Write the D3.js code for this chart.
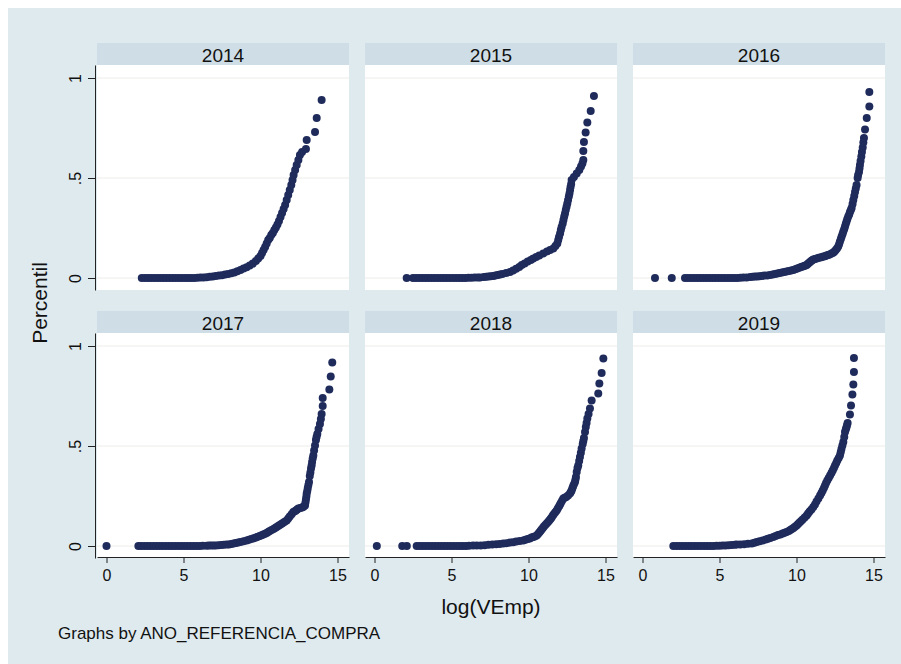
<!DOCTYPE html>
<html>
<head>
<meta charset="utf-8">
<script src="https://cdn.jsdelivr.net/npm/d3@7"></script>
<style>
  html, body { margin: 0; padding: 0; background: #ffffff; }
  svg { display: block; }
  text { font-family: "Liberation Sans", Arial, sans-serif; fill: #111; }
</style>
</head>
<body>
<svg id="chart" width="901" height="664"></svg>
<script>
// ---------------- DATA ----------------
const years = ["2014", "2015", "2016", "2017", "2018", "2019"];
const xTicks = [0, 5, 10, 15];
const yTicks = [0, 0.5, 1];
const yTickLabels = ["0", ".5", "1"];
const xTitle = "log(VEmp)";
const yTitle = "Percentil";
const note = "Graphs by ANO_REFERENCIA_COMPRA";

const x2014 = [2.29, 2.5, 2.7, 2.9, 3.1, 3.3, 3.5, 3.7, 3.9, 4.1, 4.3, 4.5, 4.7, 4.9, 5.1, 5.3, 5.5, 5.7, 5.9, 6.1, 6.3, 6.5, 6.7, 6.9, 7.1, 7.3, 7.5, 7.7, 7.9, 8.1, 8.3, 8.5, 8.7, 8.9, 9.1, 9.3, 9.5, 9.7, 9.85, 10.0, 10.1, 10.2, 10.3, 10.4, 10.5, 10.6, 10.7, 10.8, 10.9, 11.0, 11.1, 11.2, 11.3, 11.4, 11.5, 11.6, 11.7, 11.8, 11.9, 12.0, 12.08, 12.15, 12.25, 12.35, 12.46, 12.56, 12.7, 12.95, 13.0, 13.54, 13.65, 13.97];
const y2014 = [0, 0, 0, 0, 0, 0, 0, 0, 0, 0, 0, 0, 0, 0, 0, 0, 0, 0, 0.001, 0.002, 0.003, 0.004, 0.006, 0.008, 0.01, 0.012, 0.014, 0.017, 0.02, 0.024, 0.028, 0.034, 0.04, 0.047, 0.054, 0.062, 0.072, 0.085, 0.097, 0.11, 0.125, 0.14, 0.155, 0.172, 0.19, 0.2, 0.215, 0.225, 0.24, 0.252, 0.268, 0.285, 0.305, 0.325, 0.345, 0.365, 0.39, 0.415, 0.44, 0.465, 0.49, 0.515, 0.54, 0.565, 0.59, 0.615, 0.63, 0.645, 0.69, 0.73, 0.80, 0.89];

const x2015 = [2.09, 2.5, 2.7, 2.9, 3.1, 3.3, 3.5, 3.7, 3.9, 4.1, 4.3, 4.5, 4.7, 4.9, 5.1, 5.3, 5.5, 5.7, 5.9, 6.1, 6.3, 6.5, 6.7, 6.85, 7.1, 7.25, 7.4, 7.55, 7.71, 7.85, 8.0, 8.15, 8.3, 8.55, 8.8, 9.0, 9.2, 9.4, 9.56, 9.75, 9.95, 10.15, 10.31, 10.5, 10.7, 10.96, 11.2, 11.4, 11.61, 11.75, 11.87, 11.93, 11.98, 12.05, 12.1, 12.15, 12.22, 12.27, 12.32, 12.37, 12.42, 12.47, 12.52, 12.57, 12.62, 12.66, 12.7, 12.73, 12.77, 12.8, 12.95, 13.13, 13.3, 13.41, 13.5, 13.56, 13.56, 13.6, 13.71, 13.82, 14.04, 14.25];
const y2015 = [0, 0, 0, 0, 0, 0, 0, 0, 0, 0, 0, 0, 0, 0, 0, 0, 0, 0, 0, 0.001, 0.001, 0.002, 0.002, 0.003, 0.005, 0.006, 0.008, 0.009, 0.01, 0.012, 0.015, 0.017, 0.02, 0.025, 0.03, 0.038, 0.046, 0.055, 0.065, 0.073, 0.082, 0.09, 0.098, 0.105, 0.113, 0.123, 0.133, 0.14, 0.148, 0.16, 0.173, 0.19, 0.205, 0.223, 0.24, 0.255, 0.273, 0.29, 0.307, 0.323, 0.34, 0.356, 0.373, 0.39, 0.407, 0.423, 0.44, 0.455, 0.47, 0.49, 0.505, 0.523, 0.54, 0.557, 0.572, 0.59, 0.635, 0.68, 0.727, 0.777, 0.835, 0.91];

const x2016 = [0.81, 1.9, 2.76, 2.95, 3.15, 3.35, 3.55, 3.75, 3.95, 4.15, 4.35, 4.55, 4.75, 4.95, 5.15, 5.35, 5.55, 5.75, 5.95, 6.15, 6.35, 6.55, 6.77, 7.0, 7.15, 7.3, 7.45, 7.6, 7.75, 7.9, 8.1, 8.28, 8.45, 8.6, 8.75, 8.9, 9.05, 9.2, 9.35, 9.5, 9.65, 9.79, 9.92, 10.05, 10.18, 10.3, 10.4, 10.5, 10.58, 10.66, 10.73, 10.8, 10.88, 10.95, 11.02, 11.09, 11.2, 11.3, 11.4, 11.5, 11.62, 11.74, 11.85, 11.95, 12.05, 12.15, 12.27, 12.39, 12.47, 12.55, 12.63, 12.71, 12.77, 12.82, 12.88, 12.93, 12.99, 13.04, 13.1, 13.15, 13.2, 13.25, 13.3, 13.36, 13.42, 13.47, 13.53, 13.58, 13.64, 13.69, 13.75, 13.8, 13.85, 13.9, 13.97, 14.0, 14.06, 14.09, 14.12, 14.16, 14.21, 14.25, 14.3, 14.34, 14.38, 14.45, 14.56, 14.73, 14.73];
const y2016 = [0, 0, 0, 0, 0, 0, 0, 0, 0, 0, 0, 0, 0, 0, 0, 0, 0, 0, 0, 0, 0.001, 0.002, 0.003, 0.005, 0.006, 0.007, 0.008, 0.009, 0.01, 0.012, 0.013, 0.015, 0.017, 0.02, 0.022, 0.025, 0.027, 0.03, 0.032, 0.035, 0.037, 0.04, 0.044, 0.048, 0.051, 0.055, 0.057, 0.06, 0.062, 0.065, 0.07, 0.075, 0.08, 0.085, 0.089, 0.093, 0.095, 0.098, 0.1, 0.102, 0.104, 0.107, 0.109, 0.112, 0.115, 0.118, 0.122, 0.127, 0.133, 0.14, 0.148, 0.157, 0.17, 0.182, 0.195, 0.207, 0.22, 0.232, 0.245, 0.257, 0.27, 0.282, 0.295, 0.307, 0.318, 0.33, 0.34, 0.35, 0.37, 0.39, 0.41, 0.43, 0.448, 0.465, 0.5, 0.515, 0.53, 0.547, 0.565, 0.585, 0.607, 0.63, 0.653, 0.677, 0.70, 0.743, 0.80, 0.857, 0.93];

const x2017 = [0, 2.07, 2.25, 2.45, 2.65, 2.85, 3.05, 3.25, 3.45, 3.65, 3.85, 4.05, 4.25, 4.45, 4.65, 4.85, 5.05, 5.25, 5.45, 5.65, 5.85, 6.05, 6.25, 6.5, 6.65, 6.8, 6.95, 7.1, 7.28, 7.45, 7.62, 7.8, 7.95, 8.1, 8.25, 8.4, 8.55, 8.7, 8.9, 9.1, 9.25, 9.4, 9.55, 9.7, 9.82, 9.95, 10.07, 10.18, 10.3, 10.4, 10.5, 10.6, 10.72, 10.85, 10.95, 11.05, 11.15, 11.25, 11.35, 11.45, 11.57, 11.7, 11.8, 11.9, 12.02, 12.13, 12.22, 12.3, 12.38, 12.46, 12.58, 12.7, 12.8, 12.89, 12.92, 12.95, 12.98, 13.0, 13.04, 13.07, 13.11, 13.15, 13.2, 13.24, 13.28, 13.32, 13.35, 13.39, 13.43, 13.48, 13.54, 13.6, 13.64, 13.69, 13.77, 13.86, 13.92, 13.97, 14.04, 14.04, 14.47, 14.56, 14.66];
const y2017 = [0, 0, 0, 0, 0, 0, 0, 0, 0, 0, 0, 0, 0, 0, 0, 0, 0, 0, 0, 0, 0, 0, 0.001, 0.001, 0.002, 0.002, 0.003, 0.003, 0.004, 0.005, 0.006, 0.007, 0.008, 0.01, 0.012, 0.015, 0.017, 0.02, 0.024, 0.028, 0.031, 0.035, 0.039, 0.043, 0.046, 0.05, 0.054, 0.057, 0.061, 0.065, 0.07, 0.075, 0.08, 0.085, 0.09, 0.095, 0.1, 0.105, 0.11, 0.115, 0.121, 0.128, 0.138, 0.148, 0.159, 0.17, 0.174, 0.178, 0.183, 0.187, 0.19, 0.192, 0.197, 0.203, 0.218, 0.232, 0.247, 0.262, 0.276, 0.29, 0.305, 0.32, 0.35, 0.368, 0.387, 0.403, 0.42, 0.437, 0.453, 0.478, 0.503, 0.53, 0.545, 0.56, 0.585, 0.61, 0.635, 0.66, 0.70, 0.74, 0.783, 0.848, 0.917];

const x2018 = [0.15, 1.8, 2.1, 2.74, 2.94, 3.14, 3.34, 3.54, 3.74, 3.94, 4.14, 4.34, 4.54, 4.74, 4.94, 5.14, 5.34, 5.54, 5.74, 5.94, 6.14, 6.4, 6.64, 6.9, 7.15, 7.4, 7.65, 7.9, 8.13, 8.36, 8.58, 8.8, 9.0, 9.2, 9.43, 9.66, 9.8, 9.95, 10.08, 10.2, 10.3, 10.4, 10.53, 10.62, 10.7, 10.78, 10.85, 10.93, 11.0, 11.09, 11.18, 11.27, 11.35, 11.43, 11.5, 11.58, 11.65, 11.74, 11.83, 11.9, 11.98, 12.04, 12.1, 12.18, 12.26, 12.35, 12.45, 12.57, 12.69, 12.75, 12.8, 12.85, 12.9, 12.96, 13.02, 13.05, 13.08, 13.13, 13.18, 13.23, 13.29, 13.34, 13.4, 13.45, 13.52, 13.56, 13.6, 13.67, 13.72, 13.77, 13.82, 13.9, 13.99, 14.1, 14.53, 14.6, 14.75, 14.86];
const y2018 = [0, 0, 0, 0, 0, 0, 0, 0, 0, 0, 0, 0, 0, 0, 0, 0, 0, 0, 0, 0, 0.001, 0.002, 0.003, 0.003, 0.004, 0.006, 0.007, 0.009, 0.01, 0.012, 0.014, 0.017, 0.019, 0.022, 0.025, 0.028, 0.031, 0.035, 0.038, 0.042, 0.045, 0.048, 0.053, 0.06, 0.068, 0.075, 0.082, 0.09, 0.097, 0.105, 0.112, 0.12, 0.128, 0.135, 0.143, 0.152, 0.16, 0.169, 0.178, 0.188, 0.198, 0.206, 0.215, 0.226, 0.237, 0.241, 0.245, 0.253, 0.262, 0.27, 0.278, 0.289, 0.3, 0.31, 0.32, 0.332, 0.345, 0.37, 0.39, 0.403, 0.425, 0.445, 0.466, 0.487, 0.51, 0.525, 0.54, 0.57, 0.595, 0.615, 0.637, 0.66, 0.687, 0.728, 0.762, 0.812, 0.865, 0.937];

const x2019 = [2.0, 2.2, 2.4, 2.6, 2.8, 3.0, 3.2, 3.4, 3.6, 3.8, 4.0, 4.2, 4.4, 4.6, 4.8, 5.0, 5.2, 5.4, 5.6, 5.8, 6.0, 6.12, 6.35, 6.6, 6.85, 7.1, 7.27, 7.42, 7.6, 7.8, 8.0, 8.15, 8.3, 8.49, 8.65, 8.8, 8.95, 9.1, 9.23, 9.36, 9.5, 9.6, 9.7, 9.8, 9.9, 10.01, 10.1, 10.2, 10.3, 10.4, 10.53, 10.66, 10.75, 10.85, 10.97, 11.09, 11.2, 11.3, 11.42, 11.53, 11.62, 11.7, 11.78, 11.85, 11.92, 12.0, 12.09, 12.18, 12.27, 12.35, 12.43, 12.5, 12.58, 12.65, 12.74, 12.82, 12.87, 12.92, 12.98, 13.04, 13.1, 13.15, 13.2, 13.24, 13.28, 13.32, 13.47, 13.54, 13.63, 13.69, 13.73, 13.73];
const y2019 = [0, 0, 0, 0, 0, 0, 0, 0, 0, 0, 0, 0, 0, 0, 0.001, 0.001, 0.002, 0.003, 0.004, 0.005, 0.006, 0.007, 0.008, 0.009, 0.011, 0.012, 0.016, 0.02, 0.024, 0.028, 0.032, 0.036, 0.04, 0.045, 0.05, 0.055, 0.058, 0.062, 0.066, 0.07, 0.075, 0.08, 0.085, 0.09, 0.096, 0.103, 0.11, 0.117, 0.125, 0.132, 0.142, 0.153, 0.162, 0.172, 0.183, 0.195, 0.208, 0.222, 0.238, 0.253, 0.265, 0.278, 0.29, 0.303, 0.315, 0.328, 0.34, 0.353, 0.365, 0.378, 0.39, 0.403, 0.415, 0.428, 0.44, 0.453, 0.469, 0.485, 0.502, 0.52, 0.545, 0.57, 0.582, 0.593, 0.604, 0.615, 0.657, 0.703, 0.757, 0.808, 0.87, 0.94];

const seriesX = { "2014": x2014, "2015": x2015, "2016": x2016, "2017": x2017, "2018": x2018, "2019": x2019 };
const seriesY = { "2014": y2014, "2015": y2015, "2016": y2016, "2017": y2017, "2018": y2018, "2019": y2019 };

// ---------------- LAYOUT ----------------
const svg = d3.select("#chart");
const W = 901, H = 664;
const bg = "#dfeaee", stripFill = "#cfdee6", dotColor = "#1f2b5b";

svg.append("rect").attr("x", 8).attr("y", 8).attr("width", W - 8).attr("height", H - 8).attr("fill", bg);

const panelLefts = [97, 365, 633];
const plotTops = [65, 333];
const pw = 252, ph = 225, stripH = 22;

const x = d3.scaleLinear().domain([-9.5 / 15.4, 242.5 / 15.4]).range([0, pw]);
const y = d3.scaleLinear().domain([-0.06, 1.065]).range([ph, 0]);

years.forEach((yr, i) => {
  const col = i % 3, row = Math.floor(i / 3);
  const L = panelLefts[col], T = plotTops[row];
  const g = svg.append("g").attr("transform", `translate(${L},${T})`);

  // strip
  g.append("rect").attr("x", 0).attr("y", -stripH).attr("width", pw).attr("height", stripH).attr("fill", stripFill);
  g.append("text").attr("x", pw / 2).attr("y", -stripH / 2 + 1).attr("text-anchor", "middle")
    .attr("dominant-baseline", "central").attr("font-size", 19).text(yr);

  // plot region
  g.append("rect").attr("x", 0).attr("y", 0).attr("width", pw).attr("height", ph).attr("fill", "#ffffff");

  // gridlines
  g.selectAll("line.grid").data(yTicks).enter().append("line")
    .attr("x1", 0).attr("x2", pw).attr("y1", d => y(d)).attr("y2", d => y(d))
    .attr("stroke", "#ececea").attr("stroke-width", 1);

  // points
  const xs = seriesX[yr], ys = seriesY[yr];
  g.selectAll("circle").data(d3.range(xs.length)).enter().append("circle")
    .attr("cx", k => x(xs[k])).attr("cy", k => y(ys[k])).attr("r", 4)
    .attr("fill", dotColor);

  // y axis (first column only)
  if (col === 0) {
    const ya = g.append("g").attr("transform", "translate(-2,0)")
      .call(d3.axisLeft(y).tickValues(yTicks).tickFormat((d, k) => yTickLabels[k]).tickSize(7).tickSizeOuter(0));
    ya.select(".domain").attr("stroke", "#222");
    ya.selectAll(".tick line").attr("stroke", "#222");
    ya.selectAll(".tick text").attr("font-size", 16).attr("font-family", "Liberation Sans, Arial, sans-serif")
      .attr("fill", "#111").attr("transform", "rotate(-90)").attr("x", 0).attr("y", -20)
      .attr("dy", "0.35em").attr("text-anchor", "middle");
  }
  // x axis (bottom row only)
  if (row === 1) {
    const xa = g.append("g").attr("transform", `translate(0,${ph - 1})`)
      .call(d3.axisBottom(x).tickValues(xTicks).tickFormat(d3.format("d")).tickSize(6).tickSizeOuter(0));
    xa.select(".domain").attr("stroke", "#222");
    xa.selectAll(".tick line").attr("stroke", "#222");
    xa.selectAll(".tick text").attr("font-size", 16).attr("font-family", "Liberation Sans, Arial, sans-serif")
      .attr("fill", "#111").attr("y", 13);
  }
});

// titles
svg.append("text").attr("transform", "translate(47,303) rotate(-90)").attr("text-anchor", "middle")
  .attr("font-size", 21).text(yTitle);
svg.append("text").attr("x", 491).attr("y", 614).attr("text-anchor", "middle")
  .attr("font-size", 21).text(xTitle);
svg.append("text").attr("x", 58).attr("y", 639).attr("font-size", 17).text(note);
</script>
</body>
</html>
